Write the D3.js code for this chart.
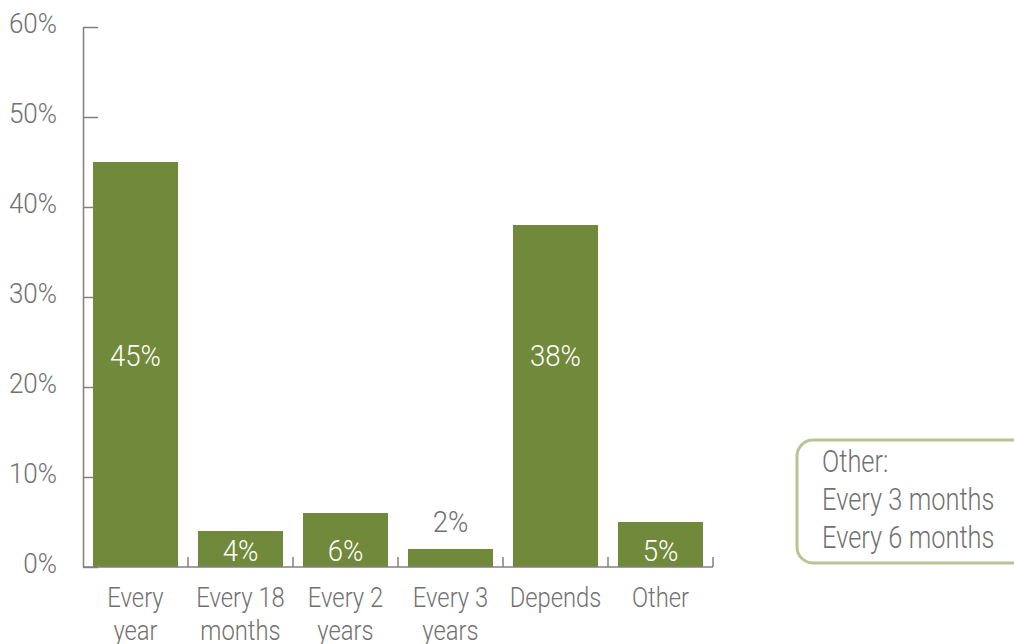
<!DOCTYPE html>
<html>
<head>
<meta charset="utf-8">
<script src="https://cdn.jsdelivr.net/npm/d3@7"></script>
<style>
  html, body { margin: 0; padding: 0; background: #fff; }
  svg text { font-family: "Roboto", "Liberation Sans", sans-serif; font-weight: 300; }
</style>
</head>
<body>
<svg id="chart" width="1014" height="644"></svg>
<script>
// Survey answers: how often the review is carried out
const categories = [["Every", "year"], ["Every 18", "months"], ["Every 2", "years"], ["Every 3", "years"], ["Depends"], ["Other"]];
const values = [45, 4, 6, 2, 38, 5];
const yTicks = [0, 10, 20, 30, 40, 50, 60];
const noteLines = ["Other:", "Every 3 months", "Every 6 months"];

const barColor = "#71893a";
const axisColor = "#808080";
const textColor = "#717171";

const svg = d3.select("#chart");
const margin = { left: 83, top: 27, bottom: 567 };
const plotRight = 713;

// place a text at (px, py) and squeeze it horizontally for a condensed look
const at = (px, py, k) => `translate(${px},${py}) scale(${k},1)`;

const x = d3.scaleBand()
  .domain(d3.range(categories.length))
  .range([margin.left, plotRight])
  .paddingInner(20 / 105)
  .paddingOuter(10 / 105);

const y = d3.scaleLinear().domain([0, 60]).range([margin.bottom, margin.top]);

// Y axis with ticks pointing into the plot
const yAxis = svg.append("g")
  .attr("transform", `translate(${margin.left},0)`)
  .call(d3.axisRight(y).tickValues(yTicks).tickSize(15).tickSizeOuter(0).tickFormat(d => d + "%"));
yAxis.select(".domain").attr("stroke", axisColor).attr("stroke-width", 1.5);
yAxis.selectAll(".tick line").attr("stroke", axisColor).attr("stroke-width", 1.5);
yAxis.selectAll(".tick text")
  .attr("x", 0).attr("dy", null).attr("text-anchor", "end")
  .attr("transform", at(-26, 5.5, 0.93))
  .attr("fill", textColor).style("font-size", "28px");

// Bars
svg.append("g").selectAll("rect")
  .data(values)
  .join("rect")
  .attr("x", (d, i) => x(i))
  .attr("y", d => y(d))
  .attr("width", x.bandwidth())
  .attr("height", d => y(0) - y(d))
  .attr("fill", barColor);

// X baseline and category separators (ticks point upward)
const step = x.step();
const xg = svg.append("g");
xg.append("line")
  .attr("x1", margin.left).attr("x2", plotRight)
  .attr("y1", y(0)).attr("y2", y(0))
  .attr("stroke", axisColor).attr("stroke-width", 1.5);
xg.selectAll("line.sep")
  .data(d3.range(1, categories.length + 1))
  .join("line")
  .attr("class", "sep")
  .attr("x1", i => margin.left + i * step).attr("x2", i => margin.left + i * step)
  .attr("y1", y(0)).attr("y2", y(0) - 10)
  .attr("stroke", axisColor).attr("stroke-width", 1.5);

// Category labels
const catLabels = svg.append("g").selectAll("text")
  .data(categories)
  .join("text")
  .attr("text-anchor", "middle")
  .attr("fill", textColor)
  .style("font-size", "28px")
  .attr("transform", (d, i) => at(x(i) + x.bandwidth() / 2, 607, 0.85));
catLabels.selectAll("tspan")
  .data(d => d)
  .join("tspan")
  .attr("x", 0)
  .attr("dy", (d, j) => j === 0 ? 0 : 33)
  .text(d => d);

// Value labels: inside tall bars, at the foot of short bars, above the shortest
svg.append("g").selectAll("text")
  .data(values)
  .join("text")
  .attr("text-anchor", "middle")
  .style("font-size", "30px")
  .attr("transform", (d, i) => at(x(i) + x.bandwidth() / 2,
    d > 20 ? y(22.3) : d >= 4 ? y(0) - 6 : y(d) - 17, 0.92))
  .attr("fill", d => d >= 4 ? "#ffffff" : textColor)
  .text(d => d + "%");

// Note box
const note = svg.append("g");
note.append("rect")
  .attr("x", 797).attr("y", 440)
  .attr("width", 240).attr("height", 123)
  .attr("rx", 16).attr("ry", 16)
  .attr("fill", "none")
  .attr("stroke", "#b8c493").attr("stroke-width", 3);
note.selectAll("text")
  .data(noteLines)
  .join("text")
  .attr("transform", (d, i) => at(822, 472 + i * 38, 0.82))
  .attr("fill", textColor)
  .style("font-size", "31px")
  .text(d => d);
</script>
</body>
</html>
